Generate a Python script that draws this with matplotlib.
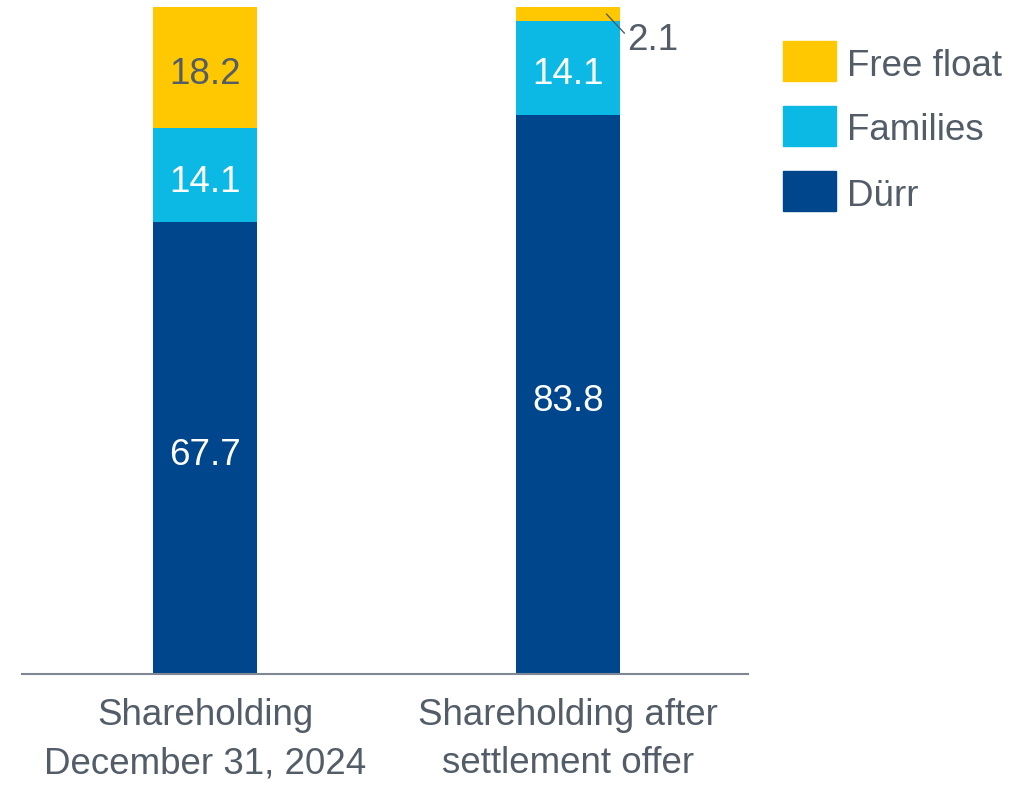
import matplotlib.pyplot as plt
from matplotlib.patches import Rectangle

# shareholding structure, in percent
categories = ["Shareholding\nDecember 31, 2024", "Shareholding after\nsettlement offer"]
durr = [67.7, 83.8]
families = [14.1, 14.1]
free_float = [18.2, 2.1]

text_col = "#535d68"
col_durr = "#00468c"
col_fam = "#0cb9e4"
col_free = "#ffc800"
fs = 26.5

plt.rcParams["font.family"] = ["Liberation Sans", "DejaVu Sans"]

W, H = 1033, 785
fig = plt.figure(figsize=(W / 100, H / 100), dpi=100)
ax = fig.add_axes([22 / W, 111 / H, 726 / W, 667 / H])

x = list(range(len(categories)))
w = 0.2865
ax.bar(x, durr, w, color=col_durr)
ax.bar(x, families, w, bottom=durr, color=col_fam)
top2 = [d + f for d, f in zip(durr, families)]
ax.bar(x, free_float, w, bottom=top2, color=col_free)


def label(xx, yy, s, col):
    ax.annotate(s, xy=(xx, yy), xytext=(0, -5), textcoords="offset points",
                ha="center", va="center", color=col, fontsize=fs)


for i in x:
    label(i, durr[i] / 2, f"{durr[i]:.1f}", "white")
    label(i, durr[i] + families[i] / 2, f"{families[i]:.1f}", "white")
    if free_float[i] > 5:
        label(i, top2[i] + free_float[i] / 2, f"{free_float[i]:.1f}", text_col)
    else:
        ax.annotate(f"{free_float[i]:.1f}",
                    xy=(i + w * 0.37, top2[i] + free_float[i] / 2),
                    xytext=(15, -19), textcoords="offset points",
                    ha="left", va="center", color=text_col, fontsize=fs,
                    arrowprops=dict(arrowstyle="-", color=text_col, lw=1,
                                    shrinkA=0, shrinkB=0, relpos=(0, 0.62)))

ax.set_xlim(-0.504, 1.496)
ax.set_ylim(0, 100)
ax.set_xticks(x)
ax.set_xticklabels(categories, fontsize=fs, color=text_col, linespacing=1.5)
ax.tick_params(axis="x", length=0, pad=17)
ax.set_yticks([])
for s in ["top", "right", "left"]:
    ax.spines[s].set_visible(False)
ax.spines["bottom"].set_color("#7f8892")
ax.spines["bottom"].set_linewidth(1.5)

# legend drawn by hand: boxes and texts, top entry first
leg_names = ["Free float", "Families", "Dürr"]
leg_cols = [col_free, col_fam, col_durr]
for j, (name, c) in enumerate(zip(leg_names, leg_cols)):
    y0 = 41 + 65 * j
    fig.patches.append(Rectangle((783 / W, 1 - (y0 + 40) / H), 53 / W, 40 / H,
                                 transform=fig.transFigure, color=c))
    fig.text(847 / W, 1 - (y0 + 25) / H, name, ha="left", va="center",
             color=text_col, fontsize=fs)

fig.savefig("out.png", dpi=100)
